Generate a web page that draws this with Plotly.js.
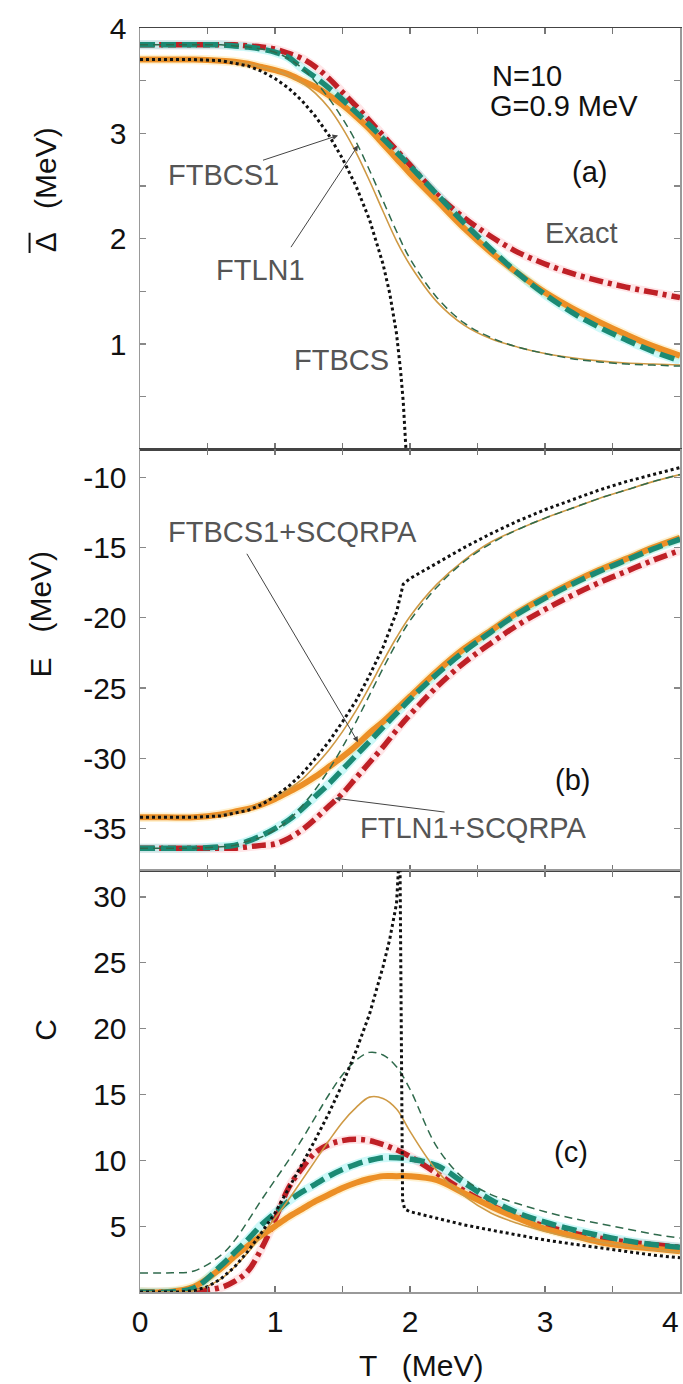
<!DOCTYPE html>
<html>
<head>
<meta charset="utf-8">
<script src="https://cdn.plot.ly/plotly-3.0.1.min.js"></script>
<style>html,body{margin:0;padding:0;background:#fff;}#chart{width:683px;height:1384px;}</style>
</head>
<body>
<div id="chart"></div>
<script>
// Common temperature grid (MeV)
const T = [0,0.2,0.4,0.6,0.7,0.8,0.9,1.0,1.1,1.2,1.3,1.4,1.5,1.6,1.7,1.8,1.9,2.0,2.2,2.4,2.6,2.8,3.0,3.2,3.4,3.6,3.8,4.0];

// Panel (a): pairing gap
const gapExact   = [3.84,3.84,3.84,3.84,3.84,3.83,3.82,3.80,3.76,3.71,3.63,3.52,3.39,3.26,3.12,2.98,2.84,2.70,2.42,2.20,2.02,1.87,1.76,1.67,1.60,1.54,1.49,1.44];
const gapFTLN1SC = [3.84,3.84,3.84,3.84,3.83,3.82,3.80,3.77,3.72,3.62,3.53,3.43,3.32,3.20,3.08,2.95,2.82,2.69,2.42,2.15,1.90,1.67,1.47,1.30,1.16,1.04,0.93,0.84];
const gapFTBCS1SC= [3.70,3.70,3.70,3.69,3.68,3.66,3.63,3.60,3.56,3.50,3.44,3.36,3.27,3.16,3.04,2.90,2.76,2.62,2.36,2.10,1.87,1.67,1.49,1.34,1.21,1.09,0.98,0.89];
const gapFTBCS1  = [3.70,3.70,3.70,3.69,3.68,3.66,3.63,3.60,3.55,3.48,3.38,3.24,3.05,2.82,2.55,2.26,1.98,1.75,1.40,1.18,1.05,0.97,0.91,0.87,0.84,0.82,0.81,0.80];
const gapFTLN1   = [3.84,3.84,3.84,3.84,3.83,3.82,3.80,3.77,3.71,3.62,3.49,3.33,3.14,2.92,2.65,2.36,2.07,1.81,1.44,1.20,1.06,0.97,0.91,0.86,0.83,0.81,0.80,0.79];
const T_gapFTBCS = [0,0.4,0.6,0.8,0.9,1.0,1.1,1.2,1.3,1.4,1.5,1.6,1.7,1.8,1.85,1.9,1.93,1.95,1.97];
const gapFTBCS   = [3.70,3.70,3.69,3.64,3.59,3.52,3.43,3.31,3.16,2.98,2.76,2.50,2.18,1.76,1.48,1.10,0.75,0.45,0.0];

// Panel (b): energy
const eExact     = [-36.4,-36.4,-36.4,-36.4,-36.4,-36.3,-36.2,-36.1,-35.7,-35.1,-34.3,-33.4,-32.5,-31.4,-30.3,-29.2,-28.0,-26.9,-24.9,-23.2,-21.8,-20.5,-19.4,-18.4,-17.5,-16.7,-15.9,-15.2];
const eFTLN1SC   = [-36.4,-36.4,-36.4,-36.3,-36.2,-35.9,-35.5,-35.0,-34.4,-33.6,-32.7,-31.8,-30.8,-29.8,-28.8,-27.8,-26.8,-25.8,-24.0,-22.4,-21.0,-19.7,-18.6,-17.6,-16.7,-15.9,-15.1,-14.4];
const eFTBCS1SC  = [-34.2,-34.2,-34.2,-34.0,-33.8,-33.6,-33.3,-32.9,-32.4,-31.9,-31.3,-30.6,-29.9,-29.1,-28.2,-27.4,-26.5,-25.6,-23.8,-22.2,-20.9,-19.6,-18.5,-17.5,-16.6,-15.8,-15.0,-14.3];
const eFTBCS1    = [-34.2,-34.2,-34.2,-34.0,-33.8,-33.6,-33.2,-32.8,-32.2,-31.5,-30.5,-29.4,-28.1,-26.6,-24.9,-23.1,-21.4,-19.9,-17.6,-15.9,-14.6,-13.7,-12.9,-12.2,-11.5,-10.9,-10.3,-9.8];
const eFTLN1     = [-36.4,-36.4,-36.4,-36.3,-36.2,-35.9,-35.6,-35.1,-34.4,-33.4,-32.2,-30.8,-29.2,-27.4,-25.5,-23.6,-21.8,-20.2,-17.8,-16.0,-14.7,-13.7,-12.9,-12.2,-11.5,-10.9,-10.3,-9.8];
const T_eFTBCS   = [0,0.4,0.6,0.8,0.9,1.0,1.1,1.2,1.3,1.4,1.5,1.6,1.7,1.8,1.9,1.95,2.0,2.2,2.4,2.6,2.8,3.0,3.2,3.4,3.6,3.8,4.0];
const eFTBCS     = [-34.2,-34.2,-34.1,-33.7,-33.3,-32.7,-32.0,-31.1,-30.0,-28.8,-27.4,-25.9,-24.1,-22.1,-19.6,-17.6,-17.2,-16.1,-15.0,-14.0,-13.1,-12.3,-11.6,-10.9,-10.3,-9.8,-9.3];

// Panel (c): heat capacity
const cExact     = [0,0,0.05,0.35,0.8,1.6,3.3,5.5,7.9,9.4,10.6,11.2,11.5,11.6,11.5,11.2,10.8,10.3,9.0,7.7,6.6,5.7,5.0,4.5,4.1,3.8,3.6,3.4];
const cFTLN1SC   = [0,0,0.3,2.0,3.0,4.0,5.1,6.0,6.9,7.6,8.2,8.8,9.3,9.7,10.0,10.2,10.2,10.1,9.6,8.3,7.0,6.0,5.3,4.75,4.3,3.9,3.6,3.4];
const cFTBCS1SC  = [0,0,0.4,1.8,2.7,3.5,4.3,5.0,5.7,6.3,6.9,7.4,7.9,8.3,8.6,8.8,8.8,8.8,8.5,7.5,6.5,5.6,4.8,4.3,3.8,3.5,3.3,3.1];
const cFTBCS1    = [0,0,0.1,1.0,1.9,3.0,4.3,5.6,7.0,8.5,10.0,11.5,12.9,14.0,14.8,14.7,13.9,12.2,9.2,7.3,6.0,5.2,4.6,4.1,3.8,3.5,3.2,3.0];
const cFTLN1     = [1.45,1.45,1.6,2.8,3.9,5.4,7.0,8.5,10.0,11.6,13.3,15.0,16.5,17.6,18.2,18.0,17.1,15.4,11.0,8.6,7.4,6.7,6.1,5.6,5.2,4.8,4.4,4.1];
const T_cFTBCS   = [0,0.3,0.4,0.5,0.6,0.7,0.8,0.9,1.0,1.1,1.2,1.3,1.4,1.5,1.6,1.7,1.8,1.85,1.9,1.925,1.945,1.96,2.0,2.2,2.4,2.6,2.8,3.0,3.2,3.4,3.6,3.8,4.0];
const cFTBCS     = [0,0,0.1,0.4,1.0,1.9,3.1,4.5,6.0,7.8,9.7,11.6,13.6,15.8,18.3,21.1,24.7,26.8,29.5,34,7.0,6.3,6.1,5.6,5.1,4.7,4.3,3.95,3.65,3.35,3.05,2.8,2.6];

// Tick labels
const xTickVals = [0,0.5,1,1.5,2,2.5,3,3.5,4];
const xTickText = ['0','','1','','2','','3','',''];
const xLastLabel = '4';
const yaTickVals = [0.5,1,1.5,2,2.5,3,3.5,4];
const yaTickText = ['','1','','2','','3','','4'];
const ybTickVals = [-35,-30,-25,-20,-15,-10];
const ybTickText = ['-35','-30','-25','-20','-15','-10'];
const ycTickVals = [5,10,15,20,25,30];
const ycTickText = ['5','10','15','20','25','30'];

const RED = '#bf2026', TEAL = '#1b8a74', ORANGE = '#ec8f26', THINOR = '#cf9a45', THINGR = '#2f6a4c';

function panel(xa, ya, ex, ln1sc, bcs1sc, bcs1, ln1, tb, bcs){
  const base = {type:'scatter', mode:'lines', xaxis:xa, yaxis:ya, hoverinfo:'skip', showlegend:false};
  return [
    Object.assign({}, base, {x:T, y:ex, line:{color:'rgba(255,140,150,0.22)', width:9, shape:'spline'}}),
    Object.assign({}, base, {x:T, y:bcs1sc, line:{color:'rgba(255,215,120,0.35)', width:9.5, shape:'spline'}}),
    Object.assign({}, base, {x:T, y:ln1sc, line:{color:'rgba(60,230,230,0.25)', width:9, shape:'spline'}}),
    Object.assign({}, base, {x:T, y:ex, line:{color:RED, width:5.5, dash:'14px,5px,4px,5px', shape:'spline'}}),
    Object.assign({}, base, {x:T, y:bcs1sc, line:{color:ORANGE, width:6, shape:'spline'}}),
    Object.assign({}, base, {x:T, y:ln1sc, line:{color:TEAL, width:5.5, dash:'15px,6px', shape:'spline'}}),
    Object.assign({}, base, {x:T, y:bcs1, line:{color:THINOR, width:1.6, shape:'spline'}}),
    Object.assign({}, base, {x:T, y:ln1, line:{color:THINGR, width:1.5, dash:'8px,5px', shape:'spline'}}),
    Object.assign({}, base, {x:tb, y:bcs, line:{color:'#111', width:3, dash:'dot'}})
  ];
}

const data = [].concat(
  panel('x','y', gapExact, gapFTLN1SC, gapFTBCS1SC, gapFTBCS1, gapFTLN1, T_gapFTBCS, gapFTBCS),
  panel('x2','y2', eExact, eFTLN1SC, eFTBCS1SC, eFTBCS1, eFTLN1, T_eFTBCS, eFTBCS),
  panel('x3','y3', cExact, cFTLN1SC, cFTBCS1SC, cFTBCS1, cFTLN1, T_cFTBCS, cFTBCS)
);

const FONT = 'Liberation Sans, Arial, Helvetica, sans-serif';
const tickFont = {family:FONT, size:30, color:'#111'};

function xAxis(anchor, labels, lineColor){
  return {anchor:anchor, domain:[0,1], range:[0,4], tickmode:'array', tickvals:xTickVals,
    ticktext: labels ? xTickText : xTickVals.map(()=>''), showticklabels: !!labels,
    ticks:'inside', ticklen:6, tickcolor:'#777', tickwidth:1.2, showline:true, linecolor:lineColor, linewidth:1.5,
    mirror:'ticks', showgrid:false, zeroline:false, tickfont:tickFont, ticklabelstandoff: 2, fixedrange:true};
}
function yAxis(anchor, domain, range, vals, text){
  return {anchor:anchor, domain:domain, range:range, tickmode:'array', tickvals:vals, ticktext:text,
    ticks:'inside', ticklen:6, tickcolor:'#888', tickwidth:1.2, showline:true, linecolor:'#999', linewidth:1.5,
    mirror:'ticks', showgrid:false, zeroline:false, tickfont:tickFont, ticklabelstandoff: 6, fixedrange:true};
}

const d = 1/3;
const annFont = {family:FONT, size:29, color:'#555'};
const blkFont = {family:FONT, size:29, color:'#111'};
const ttlFont = {family:FONT, size:30, color:'#111'};
const arrowCommon = {showarrow:true, arrowhead:2, arrowsize:1.1, arrowwidth:1, arrowcolor:'#444', text:'', standoff:0, startstandoff:0};

const annotations = [
  // panel (a)
  {xref:'x', yref:'y', x:2.867, y:3.54, text:'N=10', showarrow:false, font:blkFont},
  {xref:'x', yref:'y', x:3.14, y:3.26, text:'G=0.9 MeV', showarrow:false, font:blkFont},
  {xref:'x', yref:'y', x:3.33, y:2.63, text:'(a)', showarrow:false, font:blkFont},
  {xref:'x', yref:'y', x:3.27, y:2.05, text:'Exact', showarrow:false, font:annFont},
  {xref:'x', yref:'y', x:0.615, y:2.60, text:'FTBCS1', showarrow:false, font:annFont},
  {xref:'x', yref:'y', x:0.896, y:1.70, text:'FTLN1', showarrow:false, font:annFont},
  {xref:'x', yref:'y', x:1.489, y:0.85, text:'FTBCS', showarrow:false, font:annFont},
  Object.assign({xref:'x', yref:'y', axref:'x', ayref:'y', x:1.467, y:2.98, ax:0.90, ay:2.74}, arrowCommon),
  Object.assign({xref:'x', yref:'y', axref:'x', ayref:'y', x:1.615, y:2.886, ax:1.111, ay:1.905}, arrowCommon),
  // panel (b)
  {xref:'x2', yref:'y2', x:1.133, y:-13.9, text:'FTBCS1+SCQRPA', showarrow:false, font:annFont},
  Object.assign({xref:'x2', yref:'y2', axref:'x2', ayref:'y2', x:1.615, y:-28.85, ax:0.785, ay:-15.33}, arrowCommon),
  {xref:'x2', yref:'y2', x:3.207, y:-31.56, text:'(b)', showarrow:false, font:blkFont},
  {xref:'x2', yref:'y2', x:2.467, y:-34.98, text:'FTLN1+SCQRPA', showarrow:false, font:annFont},
  Object.assign({xref:'x2', yref:'y2', axref:'x2', ayref:'y2', x:1.444, y:-32.84, ax:2.267, ay:-33.84}, arrowCommon),
  // panel (c)
  {xref:'x3', yref:'y3', x:3.19, y:10.6, text:'(c)', showarrow:false, font:blkFont},
  // last x tick label (kept inside the page)
  {xref:'paper', yref:'paper', x:1.002, y:-0.0237, text:xLastLabel, showarrow:false, font:tickFont, xanchor:'right', yanchor:'middle'},
  // axis titles
  {xref:'paper', yref:'paper', x:-0.175, y:0.872, text:'\u0394   (MeV)', textangle:-90, showarrow:false, font:ttlFont, xanchor:'center', yanchor:'middle'},
  {xref:'paper', yref:'paper', x:-0.185, y:0.536, text:'E   (MeV)', textangle:-90, showarrow:false, font:ttlFont, xanchor:'center', yanchor:'middle'},
  {xref:'paper', yref:'paper', x:-0.175, y:0.207, text:'C', textangle:-90, showarrow:false, font:ttlFont, xanchor:'center', yanchor:'middle'},
  {xref:'paper', yref:'paper', x:0.52, y:-0.058, text:'T   (MeV)', showarrow:false, font:ttlFont, xanchor:'center', yanchor:'middle'}
];

// overbar of the Delta symbol in the panel (a) title
const shapes = [
  {type:'line', xref:'paper', yref:'paper', x0:-0.2045, x1:-0.2045, y0:0.822, y1:0.838, line:{color:'#111', width:2}}
];

const layout = {
  width:683, height:1384,
  margin:{l:140, r:3, t:28, b:92},
  paper_bgcolor:'#fff', plot_bgcolor:'#fff',
  showlegend:false,
  font:{family:FONT, size:29, color:'#111'},
  xaxis: xAxis('y', false, '#444'),
  xaxis2: xAxis('y2', false, '#444'),
  xaxis3: xAxis('y3', true, '#999'),
  yaxis: yAxis('x', [2*d,1], [0,4], yaTickVals, yaTickText),
  yaxis2: yAxis('x2', [d,2*d], [-38,-8], ybTickVals, ybTickText),
  yaxis3: yAxis('x3', [0,d], [0,32], ycTickVals, ycTickText),
  annotations: annotations,
  shapes: shapes
};

Plotly.newPlot('chart', data, layout, {staticPlot:true, displayModeBar:false});
</script>
</body>
</html>
